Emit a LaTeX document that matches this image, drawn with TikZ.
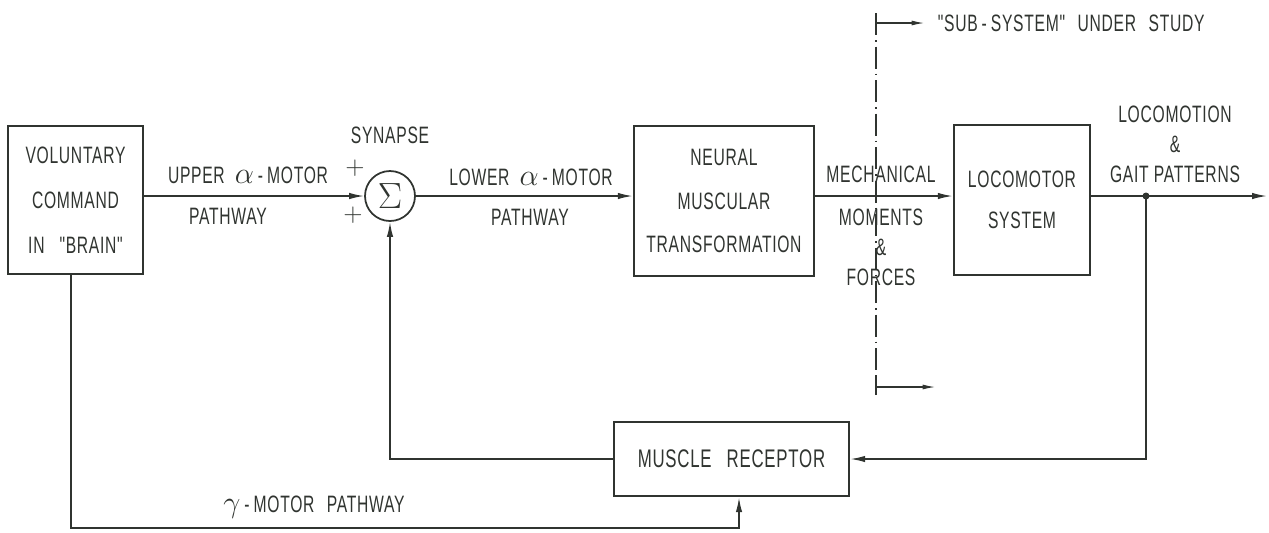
\documentclass[tikz,border=0pt]{standalone}
\usepackage{fontspec}
\setmainfont[FakeStretch=0.66, LetterSpace=3, Ligatures=TeXOff]{Liberation Sans}
\usepackage{tikz}
\usetikzlibrary{arrows.meta, positioning}
\definecolor{ink}{RGB}{48,52,48}

\begin{document}
\begin{tikzpicture}[
    every node/.style={font=\fontsize{13.5}{16}\selectfont, text=ink},
    blockbox/.style={draw=ink, line width=1.4pt, align=center, inner sep=0pt},
    sumnode/.style={draw=ink, circle, line width=1pt, minimum size=1cm, inner sep=0pt},
    arr/.style={-{Latex[length=0.3cm, width=0.13cm]}, line width=0.9pt, ink},
    wire/.style={line width=0.9pt, ink},
    cutline/.style={ink, line width=0.7pt, dash pattern=on 0.44cm off 0.1cm on 0.03cm off 0.1cm},
    tickarr/.style={-{Latex[length=0.25cm, width=0.1cm]}, line width=0.6pt, ink},
    multi/.style={align=center, font=\fontsize{13.5}{17}\selectfont},
    sign/.style={font=\fontsize{14}{14}\selectfont, inner sep=0pt},
  ]
  \useasboundingbox (0,0) rectangle (25.38,-10.64);

  % blocks
  \node[blockbox, minimum width=2.7cm, minimum height=2.96cm,
        font=\fontsize{13.5}{25.5}\selectfont] (vol) at (1.51,-4.0)
        {VOLUNTARY\\COMMAND\\IN\hspace{0.3cm}"BRAIN"};
  \node[sumnode] (sum) at (7.8,-3.92) {\fontsize{21}{21}\selectfont$\Sigma$};
  \node[blockbox, minimum width=3.6cm, minimum height=3.0cm,
        font=\fontsize{13.5}{25}\selectfont] (neural) at (14.48,-4.02)
        {NEURAL\\MUSCULAR\\TRANSFORMATION};
  \node[blockbox, minimum width=2.72cm, minimum height=3.0cm,
        font=\fontsize{13.5}{23}\selectfont] (loco) at (20.44,-4.0)
        {LOCOMOTOR\\SYSTEM};
  \node[blockbox, minimum width=4.7cm, minimum height=1.48cm,
        font=\fontsize{14.5}{16}\selectfont] (recep) at (14.63,-9.18)
        {MUSCLE\hspace{0.3cm}RECEPTOR};

  % forward path
  \coordinate (split) at (22.92,-3.92);
  \coordinate (out) at (25.34,-3.92);
  \draw[arr] (vol.east |- sum) -- (sum);
  \draw[arr] (sum) -- (sum -| neural.west);
  \draw[arr] (neural.east |- sum) -- (sum -| loco.west);
  \draw[wire] (loco.east |- sum) -- (split);
  \draw[arr] (split) -- (out);
  \fill[ink] (split) circle (0.07);

  % feedback paths
  \coordinate (gbase) at (0,-10.56);
  \draw[arr] (split) |- (recep.east);
  \draw[arr] (recep.west) -| (sum.south);
  \draw[arr] ([xshift=-0.09cm]vol.south) -- ([xshift=-0.09cm]vol.south |- gbase)
    -| ([xshift=0.15cm]recep.south);

  % sub-system boundary
  \coordinate (cuttop) at (17.52,-0.26);
  \coordinate (cutbot) at (17.52,-7.9);
  \coordinate (topmark) at (17.52,-0.46);
  \coordinate (botmark) at (17.52,-7.74);
  \draw[cutline] (cuttop) -- (cutbot);
  \draw[wire, line width=0.6pt] (cuttop) -- ++(0,-0.38);
  \draw[wire, line width=0.6pt] (cutbot) -- ++(0,0.4);
  \draw[tickarr] (topmark) -- ++(0.96,0) node[right=0.15cm] (study)
    {"SUB\,-\,SYSTEM"\hspace{0.25cm}UNDER\hspace{0.25cm}STUDY};
  \draw[tickarr] (botmark) -- ++(1.18,0);

  % labels
  \node (synapse) at (7.8,-2.7) {SYNAPSE};
  \node[sign] (plusa) at (7.1,-3.36) {$+$};
  \node[sign] (plusb) at (7.06,-4.3) {$+$};
  \node (upper) at (4.96,-3.5) {UPPER\ \ {\fontsize{17}{17}\selectfont$\alpha$}\,-\,MOTOR};
  \node (upperp) at (4.56,-4.32) {PATHWAY};
  \node (lower) at (10.62,-3.54) {LOWER\ \ {\fontsize{17}{17}\selectfont$\alpha$}\,-\,MOTOR};
  \node (lowerp) at (10.6,-4.34) {PATHWAY};
  \node (mech) at (17.62,-3.48) {MECHANICAL};
  \node[multi] (moments) at (17.62,-4.94) {MOMENTS\\\&\\FORCES};
  \node[multi] (gait) at (23.5,-2.88) {LOCOMOTION\\\&\\GAIT\ PATTERNS};
  \node (gamma) at (6.28,-10.14) {{\fontsize{18}{18}\selectfont$\gamma$}\,-\,MOTOR\hspace{0.25cm}PATHWAY};
\end{tikzpicture}
\end{document}
